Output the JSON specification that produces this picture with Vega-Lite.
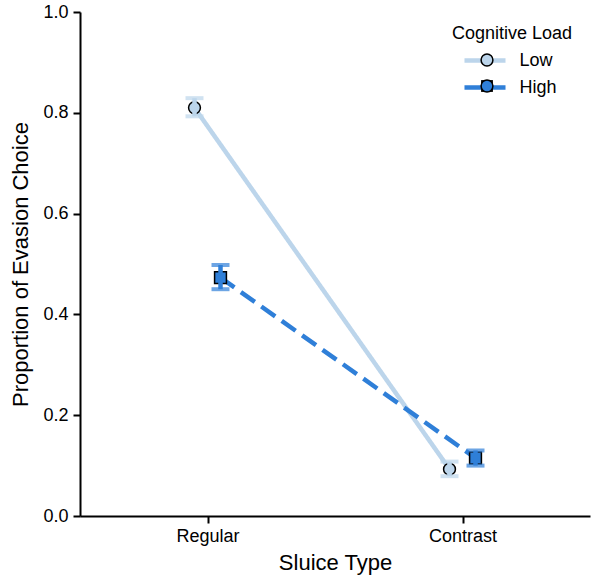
{
  "$schema": "https://vega.github.io/schema/vega-lite/v6.json",
  "width": 510,
  "height": 504,
  "autosize": {"type": "none"},
  "padding": {"left": 80, "top": 12, "right": 1, "bottom": 61},
  "config": {
    "view": {"stroke": null},
    "font": "Liberation Sans",
    "axis": {
      "domainColor": "#000", "domainWidth": 2, "tickColor": "#000", "tickWidth": 2, "tickSize": 7,
      "labelColor": "#000", "labelFontSize": 18, "labelFont": "Liberation Sans",
      "titleFontSize": 22, "titleFontWeight": "normal", "titleColor": "#000", "titleFont": "Liberation Sans",
      "grid": false
    },
    "legend": {
      "titleFont": "Liberation Sans", "titleFontSize": 18, "titleFontWeight": "normal", "titleColor": "#000",
      "labelFont": "Liberation Sans", "labelFontSize": 18, "labelColor": "#000",
      "padding": 0, "rowPadding": 8, "titlePadding": 8
    }
  },
  "data": {
    "values": [
      {"Sluice Type": "Regular", "Load": "Low", "mean": 0.81, "lo": 0.793, "hi": 0.829},
      {"Sluice Type": "Regular", "Load": "High", "mean": 0.473, "lo": 0.45, "hi": 0.498},
      {"Sluice Type": "Contrast", "Load": "Low", "mean": 0.093, "lo": 0.079, "hi": 0.108},
      {"Sluice Type": "Contrast", "Load": "High", "mean": 0.115, "lo": 0.1, "hi": 0.13}
    ]
  },
  "encoding": {
    "x": {
      "field": "Sluice Type", "type": "nominal", "sort": ["Regular", "Contrast"],
      "scale": {"type": "point", "padding": 0.5},
      "axis": {"labelAngle": 0, "title": "Sluice Type", "labelPadding": 4, "titlePadding": 7}
    },
    "xOffset": {
      "field": "Load", "type": "nominal",
      "scale": {"type": "point", "domain": ["Low", "High"], "range": [-13, 13], "padding": 0}
    }
  },
  "layer": [
    {
      "mark": {"type": "line", "strokeWidth": 4.5},
      "encoding": {
        "y": {
          "field": "mean", "type": "quantitative", "title": "Proportion of Evasion Choice",
          "scale": {"domain": [0, 1]},
          "axis": {"values": [0, 0.2, 0.4, 0.6, 0.8, 1.0], "format": ".1f", "labelPadding": 5, "titlePadding": 10}
        },
        "stroke": {
          "field": "Load", "type": "nominal",
          "scale": {"domain": ["Low", "High"], "range": ["#bcd5eb", "#2f7fd8"]},
          "legend": {"title": "Cognitive Load", "orient": "none", "legendX": 372, "legendY": 13,
            "symbolType": "M-3,0H3", "symbolSize": 187, "symbolStrokeWidth": 4.5, "symbolOffset": 23.5, "labelOffset": 25, "zindex": 0}
        },
        "strokeDash": {
          "field": "Load", "type": "nominal",
          "scale": {"domain": ["Low", "High"], "range": [[1, 0], [17, 8]]},
          "legend": {"title": "Cognitive Load", "orient": "none", "legendX": 372, "legendY": 13,
            "symbolType": "M-3,0H3", "symbolSize": 187, "symbolStrokeWidth": 4.5, "symbolOffset": 23.5, "labelOffset": 25, "zindex": 0}
        }
      }
    },
    {
      "mark": {"type": "point", "filled": true, "stroke": "#000", "strokeWidth": 1.5, "size": 140, "opacity": 1},
      "encoding": {
        "y": {"field": "mean", "type": "quantitative", "title": "Proportion of Evasion Choice"},
        "shape": {
          "field": "Load", "type": "nominal", "sort": ["Low", "High"],
          "scale": {"range": ["circle", "square"]},
          "legend": {"title": null, "labelExpr": "''",
            "orient": "none", "legendX": 372, "legendY": 39, "symbolOffset": 26, "labelOffset": 12,
            "symbolSize": 140, "symbolStrokeColor": "#000", "symbolStrokeWidth": 1.5, "zindex": 1}
        },
        "fill": {
          "field": "Load", "type": "nominal", "sort": ["Low", "High"],
          "scale": {"range": ["#bcd5eb", "#2f7fd8"]},
          "legend": {"title": null, "labelExpr": "''",
            "orient": "none", "legendX": 372, "legendY": 39, "symbolOffset": 26, "labelOffset": 12,
            "symbolSize": 140, "symbolStrokeColor": "#000", "symbolStrokeWidth": 1.5, "zindex": 1}
        }
      }
    },
    {
      "mark": {"type": "rule", "strokeWidth": 4.5},
      "encoding": {
        "y": {"field": "lo", "type": "quantitative", "title": "Proportion of Evasion Choice"},
        "y2": {"field": "hi"},
        "color": {"field": "Load", "type": "nominal",
          "scale": {"domain": ["Low", "High"], "range": ["#bcd5eb", "#2f7fd8"]}, "legend": null}
      }
    },
    {
      "mark": {"type": "tick", "orient": "horizontal", "thickness": 4, "size": 18},
      "encoding": {
        "y": {"field": "lo", "type": "quantitative", "title": "Proportion of Evasion Choice"},
        "color": {"field": "Load", "type": "nominal",
          "scale": {"domain": ["Low", "High"], "range": ["#bcd5eb", "#2f7fd8"]}, "legend": null}
      }
    },
    {
      "mark": {"type": "tick", "orient": "horizontal", "thickness": 4, "size": 18},
      "encoding": {
        "y": {"field": "hi", "type": "quantitative", "title": "Proportion of Evasion Choice"},
        "color": {"field": "Load", "type": "nominal",
          "scale": {"domain": ["Low", "High"], "range": ["#bcd5eb", "#2f7fd8"]}, "legend": null}
      }
    }
  ]
}
